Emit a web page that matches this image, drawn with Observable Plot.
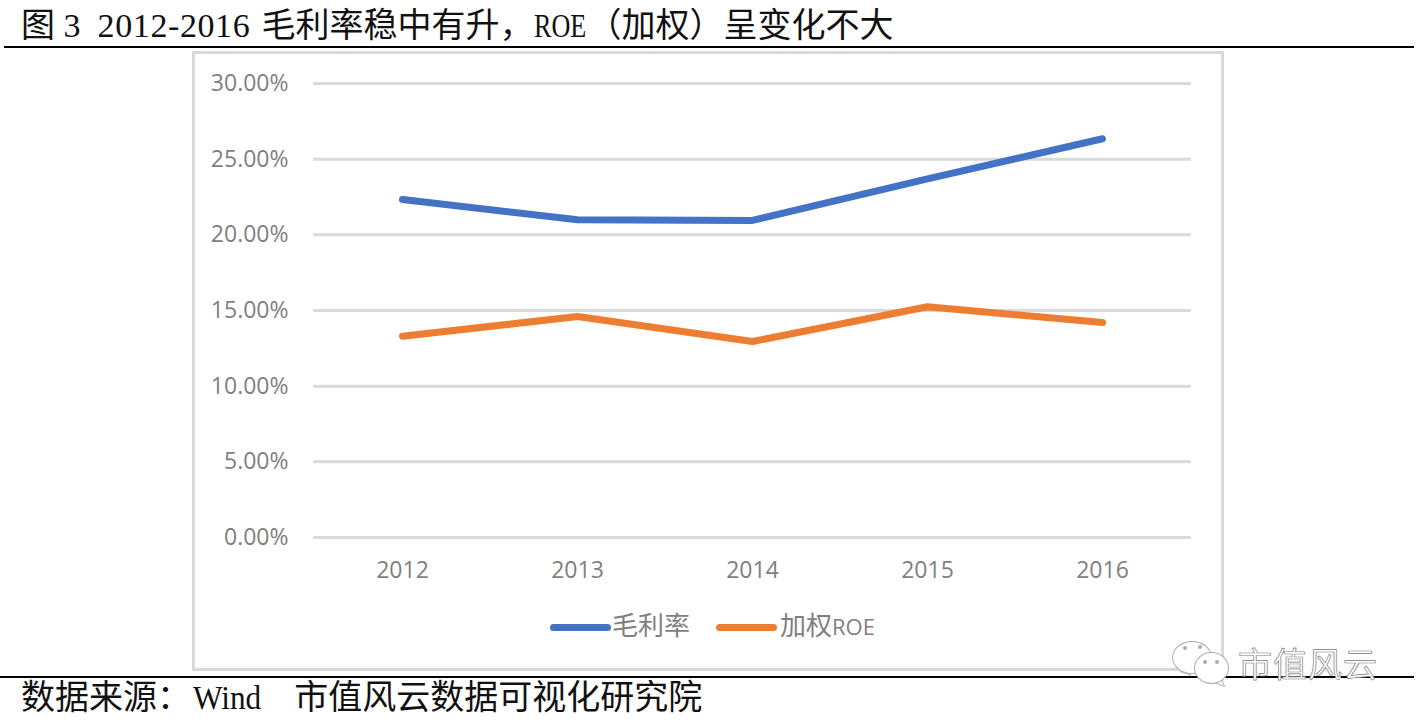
<!DOCTYPE html>
<html lang="zh">
<head>
<meta charset="utf-8">
<script src="https://cdn.jsdelivr.net/npm/d3@7"></script>
<script src="https://cdn.jsdelivr.net/npm/@observablehq/plot@0.6"></script>
<style>
html,body{margin:0;padding:0;background:#fff;width:1422px;height:726px;overflow:hidden}
#page{position:relative;width:1422px;height:726px;overflow:hidden}
.abs{position:absolute}
.doc{font-family:"Liberation Serif","Noto Sans CJK SC",serif;font-size:34px;line-height:40px;color:#111;white-space:pre;position:absolute}
.doc .squeeze{display:inline-block;transform-origin:left center}
#frame{left:192px;top:51px;width:1026px;height:614px;border:3px solid #d9d9d9}
.rule{background:#000;height:2px}
#chart{left:0;top:0}
.legend{font-family:"Open Sans","Noto Sans CJK SC",sans-serif;font-size:26px;color:#7f7f7f;line-height:30px;white-space:pre}
.legend .lat{font-size:22px}
.sw{height:7px;width:61px;border-radius:4px}
#wm{font-family:"Noto Sans CJK SC",sans-serif;font-size:34px;line-height:40px;color:#fff;-webkit-text-stroke:0.7px #808080;white-space:pre;letter-spacing:1px}
.bub{border:1px solid #aaa;border-radius:50%;background:#fff}
.eye{width:4px;height:4px;border-radius:50%;background:#aaa}
.tail{width:10px;height:10px;background:#fff;border-right:1px solid #aaa;border-bottom:1px solid #aaa;transform:skew(20deg,20deg)}
</style>
</head>
<body>
<div id="page">
  <div id="frame" class="abs"></div>
  <div id="chart" class="abs"></div>
  <div class="doc" style="left:21px;top:6px" id="title"></div>
  <div class="abs rule" style="left:4px;top:46px;width:1410px"></div>
  <div class="abs rule" style="left:0;top:676px;width:1414px"></div>
  <div class="doc" style="left:21px;top:678px" id="source"></div>
  <div id="legend"></div>
  <div class="abs tail" style="left:1178px;top:663px"></div>
  <div class="abs bub" style="left:1172px;top:641px;width:38px;height:31px"></div>
  <div class="abs eye" style="left:1183px;top:646px"></div>
  <div class="abs eye" style="left:1198px;top:645px"></div>
  <div class="abs tail" style="left:1212px;top:674px"></div>
  <div class="abs bub" style="left:1194px;top:652px;width:33px;height:30px"></div>
  <div class="abs eye" style="left:1203px;top:660px"></div>
  <div class="abs eye" style="left:1215px;top:660px"></div>
  <div id="wm" class="abs" style="left:1238px;top:643px"></div>
</div>
<script>
const years = ["2012", "2013", "2014", "2015", "2016"];
const grossMargin = [22.33, 21.0, 20.95, 23.7, 26.35];
const weightedRoe = [13.3, 14.6, 12.95, 15.25, 14.2];
const yTicks = [0, 5, 10, 15, 20, 25, 30];
const seriesNames = ["毛利率", "加权ROE"];
const seriesColors = ["#4472c4", "#ed7d31"];
const titleParts = ["图", " 3", " 2012-2016 ", "毛利率稳中有升，", "ROE", "（加权）呈变化不大"];
const sourceParts = ["数据来源：", "Wind", "   ", "市值风云数据可视化研究院"];
const watermark = "市值风云";

const isLatin = s => /^[\x20-\x7e]+$/.test(s);
function fill(el, parts) {
  parts.forEach(part => {
    const s = document.createElement("span");
    if (isLatin(part)) s.className = "lat";
    s.textContent = part;
    el.appendChild(s);
  });
  return el;
}
function squeeze(span, k, marginRight) {
  span.classList.add("squeeze");
  span.style.transform = `scaleX(${k})`;
  span.style.marginRight = marginRight;
}
const titleEl = fill(document.getElementById("title"), titleParts);
titleEl.children[2].style.marginLeft = "8px";
titleEl.children[2].style.letterSpacing = "0.6px";
titleEl.children[2].style.marginRight = "2px";
titleEl.children[4].style.marginLeft = "1px";
squeeze(titleEl.children[4], 0.77, "-15px");
const sourceEl = fill(document.getElementById("source"), sourceParts);
sourceEl.children[1].style.marginLeft = "1.5px";
squeeze(sourceEl.children[1], 0.92, "-6px");
sourceEl.children[2].style.marginRight = "8px";
document.getElementById("wm").textContent = watermark;

const rows = [
  ...years.map((year, i) => ({year, value: grossMargin[i], series: seriesNames[0]})),
  ...years.map((year, i) => ({year, value: weightedRoe[i], series: seriesNames[1]}))
];

const plot = Plot.plot({
  width: 1422,
  height: 726,
  marginLeft: 313,
  marginRight: 231,
  marginTop: 83,
  marginBottom: 189,
  style: {background: "transparent", fontFamily: "'Open Sans', sans-serif", fontSize: "23px", color: "#7f7f7f"},
  x: {type: "point", domain: years, padding: 0.5, label: null},
  y: {domain: [0, 30], label: null},
  color: {domain: seriesNames, range: seriesColors},
  marks: [
    Plot.ruleY(yTicks, {stroke: "#d9d9d9", strokeWidth: 3}),
    Plot.axisY({ticks: yTicks, tickSize: 0, tickPadding: 25, tickFormat: d => d.toFixed(2) + "%", label: null, fill: "#7f7f7f"}),
    Plot.axisX({tickSize: 0, tickPadding: 24, label: null, fill: "#7f7f7f"}),
    Plot.line(rows, {x: "year", y: "value", stroke: "series", strokeWidth: 7, strokeLinecap: "round", strokeLinejoin: "round", curve: "linear"})
  ]
});
document.getElementById("chart").appendChild(plot);

const legendLayout = [{sw: 550, tx: 612}, {sw: 716, tx: 780}];
const legendParts = [["毛利率"], ["加权", "ROE"]];
const legend = document.getElementById("legend");
seriesNames.forEach((name, i) => {
  const s = document.createElement("div");
  s.className = "abs sw";
  s.style.cssText = `left:${legendLayout[i].sw}px;top:624px;background:${seriesColors[i]}`;
  legend.appendChild(s);
  const t = document.createElement("div");
  t.className = "abs legend";
  t.style.cssText = `left:${legendLayout[i].tx}px;top:610px`;
  fill(t, legendParts[i]);
  legend.appendChild(t);
});
</script>
</body>
</html>
